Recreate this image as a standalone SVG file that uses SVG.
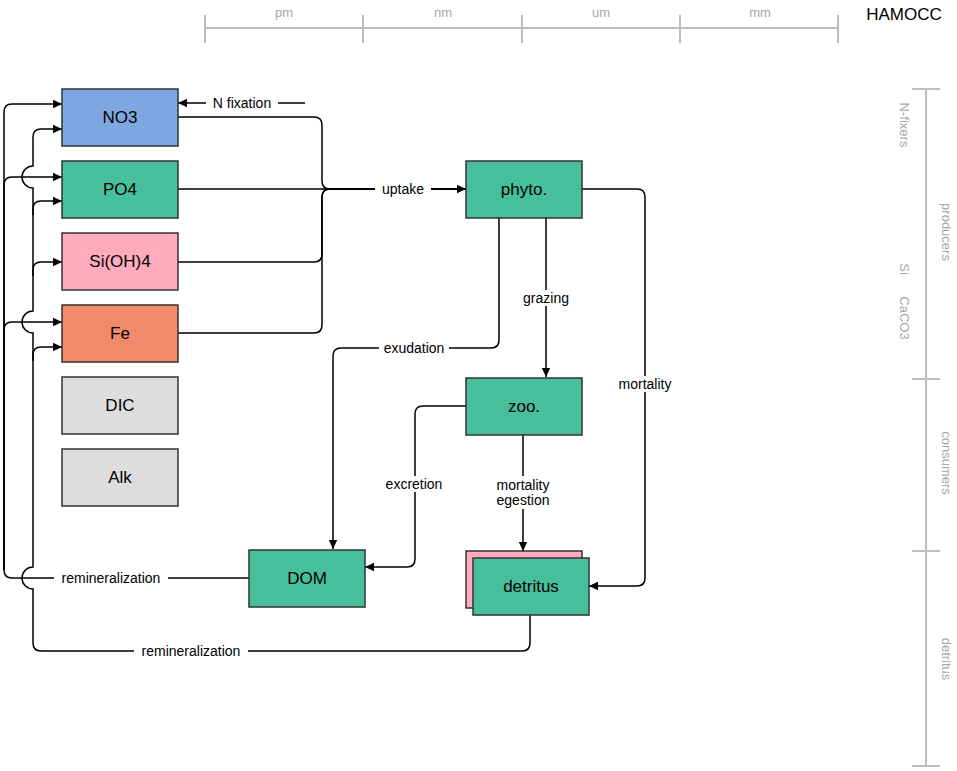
<svg xmlns="http://www.w3.org/2000/svg" width="957" height="771" viewBox="0 0 957 771">
<defs>
<marker id="arr" markerUnits="userSpaceOnUse" markerWidth="10" markerHeight="10" refX="9" refY="5" orient="auto">
<path d="M0,0.8 L9,5 L0,9.2 Z" fill="#000"/>
</marker>
<style>
.node rect{stroke:#333;stroke-width:1.5}
.node text{font-family:"Liberation Sans",Arial,sans-serif;font-size:17px;fill:#000;text-anchor:middle;dominant-baseline:central}
.edge{fill:none;stroke:#000;stroke-width:1.5}
.lbl{font-family:"Liberation Sans",Arial,sans-serif;font-size:14px;fill:#000;text-anchor:middle;dominant-baseline:central}
.bg{fill:#fff}
.ruler{stroke:#bdbdbd;stroke-width:2;fill:none}
.rl{font-family:"Liberation Sans",Arial,sans-serif;font-size:13px;fill:#a6a6a6;text-anchor:middle;dominant-baseline:central}
.green{fill:#47bf9b}
</style>
</defs>
<rect width="957" height="771" fill="#fff"/>

<g id="scale-top">
<path class="ruler" d="M205,28 H838 M205,15 V43 M363,15 V43 M522,15 V43 M680,15 V43 M838,15 V43"/>
<text class="rl" x="284" y="12" font-size="14">pm</text>
<text class="rl" x="443" y="12" font-size="14">nm</text>
<text class="rl" x="601" y="12" font-size="14">um</text>
<text class="rl" x="760" y="12" font-size="14">mm</text>
<text x="904" y="14" font-family="Liberation Sans,Arial,sans-serif" font-size="17" fill="#000" text-anchor="middle" dominant-baseline="central">HAMOCC</text>
</g>

<g id="scale-right">
<path class="ruler" d="M926,89 V766 M912,89 H940 M912,379 H940 M912,551 H940 M912,766 H940"/>
<text class="rl" transform="translate(904,125) rotate(90)">N-fixers</text>
<text class="rl" transform="translate(904,269) rotate(90)">Si</text>
<text class="rl" transform="translate(904,318) rotate(90)">CaCO3</text>
<text class="rl" transform="translate(946,232) rotate(90)">producers</text>
<text class="rl" transform="translate(946,463) rotate(90)">consumers</text>
<text class="rl" transform="translate(946,659) rotate(90)">detritus</text>
</g>

<g id="connectors">
<!-- N fixation -->
<path class="edge" d="M305,103 H178" marker-end="url(#arr)"/>
<rect class="bg" x="206" y="95" width="72" height="16"/>
<text class="lbl" x="242" y="103">N fixation</text>
<!-- uptake -->
<path class="edge" d="M178,117 H314 Q322,117 322,125 V181 Q322,189 330,189 H466"/>
<path class="edge" d="M178,262 H314 Q322,262 322,254 V197 Q322,189 330,189 H466"/>
<path class="edge" d="M178,333 H314 Q322,333 322,325 V197 Q322,189 330,189 H466"/>
<path class="edge" d="M178,189 H466" marker-end="url(#arr)"/>
<rect class="bg" x="375" y="181" width="56" height="16"/>
<text class="lbl" x="403" y="189">uptake</text>
<!-- grazing -->
<path class="edge" d="M546,218 V377" marker-end="url(#arr)"/>
<rect class="bg" x="520" y="290" width="52" height="16"/>
<text class="lbl" x="546" y="298">grazing</text>
<!-- exudation -->
<path class="edge" d="M499,218 V340 Q499,348 491,348 H341 Q333,348 333,356 V549" marker-end="url(#arr)"/>
<rect class="bg" x="379" y="340" width="70" height="16"/>
<text class="lbl" x="414" y="348">exudation</text>
<!-- excretion -->
<path class="edge" d="M466,406 H423 Q415,406 415,414 V559 Q415,567 407,567 H365" marker-end="url(#arr)"/>
<rect class="bg" x="381" y="476" width="68" height="16"/>
<text class="lbl" x="414" y="484">excretion</text>
<!-- mortality egestion -->
<path class="edge" d="M523,435 V551" marker-end="url(#arr)"/>
<rect class="bg" x="491" y="476" width="64" height="33"/>
<text class="lbl" x="523" y="485">mortality</text>
<text class="lbl" x="523" y="500">egestion</text>
<!-- mortality -->
<path class="edge" d="M582,189 H637 Q645,189 645,197 V578 Q645,586 637,586 H589" marker-end="url(#arr)"/>
<rect class="bg" x="613" y="376" width="64" height="16"/>
<text class="lbl" x="645" y="384">mortality</text>
<!-- DOM remineralization (outer) -->
<path class="edge" d="M249,578 H12 Q4,578 4,570 V112 Q4,104 12,104 H62" marker-end="url(#arr)"/>
<path class="edge" d="M4,570 V185 Q4,177 12,177 H62" marker-end="url(#arr)"/>
<path class="edge" d="M4,570 V330 Q4,322 12,322 H62" marker-end="url(#arr)"/>
<rect class="bg" x="54" y="570" width="114" height="16"/>
<text class="lbl" x="111" y="578">remineralization</text>
<!-- detritus remineralization (inner) -->
<path class="edge" d="M530,615 V643 Q530,651 522,651 H41 Q33,651 33,643 V589 A11,11 0 0 1 33,567 V333 A11,11 0 0 1 33,311 V188 A11,11 0 0 1 33,166 V137 Q33,129 41,129 H62" marker-end="url(#arr)"/>
<path class="edge" d="M33,215 V209 Q33,201 41,201 H62" marker-end="url(#arr)"/>
<path class="edge" d="M33,276 V270 Q33,262 41,262 H62" marker-end="url(#arr)"/>
<path class="edge" d="M33,361 V355 Q33,347 41,347 H62" marker-end="url(#arr)"/>
<rect class="bg" x="134" y="643" width="114" height="16"/>
<text class="lbl" x="191" y="651">remineralization</text>
</g>

<g id="NO3" class="node"><rect x="62" y="89" width="116" height="57" fill="#7ea6e0"/><text x="120" y="117.5">NO3</text></g>
<g id="PO4" class="node"><rect x="62" y="161" width="116" height="57" class="green"/><text x="120" y="189.5">PO4</text></g>
<g id="SiOH4" class="node"><rect x="62" y="233" width="116" height="57" fill="#ffabbd"/><text x="120" y="261.5">Si(OH)4</text></g>
<g id="Fe" class="node"><rect x="62" y="305" width="116" height="57" fill="#f08a6b"/><text x="120" y="333.5">Fe</text></g>
<g id="DIC" class="node"><rect x="62" y="377" width="116" height="57" fill="#dddddd"/><text x="120" y="405.5">DIC</text></g>
<g id="Alk" class="node"><rect x="62" y="449" width="116" height="57" fill="#dddddd"/><text x="120" y="477.5">Alk</text></g>
<g id="phyto" class="node"><rect x="466" y="161" width="116" height="57" class="green"/><text x="524" y="189.5">phyto.</text></g>
<g id="zoo" class="node"><rect x="466" y="378" width="116" height="57" class="green"/><text x="524" y="406.5">zoo.</text></g>
<g id="DOM" class="node"><rect x="249" y="550" width="116" height="57" class="green"/><text x="307" y="578.5">DOM</text></g>
<g id="detritus" class="node"><rect x="466" y="551" width="116" height="57" fill="#ffabbd"/><rect x="473" y="558" width="116" height="57" class="green"/><text x="531" y="586.5">detritus</text></g>
</svg>
